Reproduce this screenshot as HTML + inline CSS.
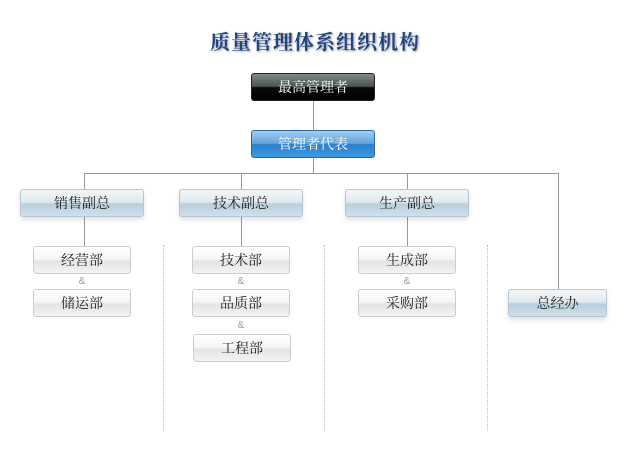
<!DOCTYPE html>
<html><head><meta charset="utf-8"><style>
body{margin:0;width:630px;height:456px;background:#fff;position:relative;overflow:hidden;font-family:"Liberation Serif","Noto Serif CJK SC",serif;}
.a{position:absolute}
.t{left:0;width:630px;top:26px;text-align:center;font-size:20px;font-weight:bold;color:#23457f;text-shadow:1px 1px 2px #99a;letter-spacing:1px}
.b{position:absolute;box-sizing:border-box;text-align:center;font-size:14px;border-radius:3px}
.k{background:linear-gradient(#7f8a88 0%,#4b5352 48%,#0a0a0a 52%,#000 100%);color:#fff;border:1px solid #222;width:124px;height:28px;line-height:29px}
.bl{background:linear-gradient(#a4cdee 0%,#5fa3dc 48%,#2a7fcc 52%,#3e9ae0 100%);color:#fff;border:1px solid #2a6aa8;width:124px;height:28px;line-height:29px}
.v{background:linear-gradient(#f2f6f8 0%,#e2eaef 45%,#b8cfdc 55%,#d0e0ea 100%);color:#222;border:1px solid #b3c7d4;width:124px;height:28px;line-height:29px;box-shadow:0 3px 5px rgba(0,0,0,.12)}
.d{background:linear-gradient(#fff 0%,#f7f7f7 45%,#e4e4e4 55%,#f3f3f3 100%);color:#222;border:1px solid #ccc;width:98px;height:28px;line-height:29px}
.h{position:absolute;background:#999;height:1px}
.vl{position:absolute;background:#999;width:1px}
.dt{position:absolute;border-left:1px dotted #bbb;width:0;top:245px;height:186px}
.amp{position:absolute;font-size:10px;color:#999;font-family:"Liberation Sans",sans-serif;width:20px;text-align:center}
</style></head><body>
<div class="a t">质量管理体系组织机构</div>
<div class="vl" style="left:313px;top:101px;height:29px"></div>
<div class="vl" style="left:313px;top:158px;height:15px"></div>
<div class="h" style="left:84px;top:173px;width:475px"></div>
<div class="vl" style="left:84px;top:173px;height:73px"></div>
<div class="vl" style="left:241px;top:173px;height:73px"></div>
<div class="vl" style="left:407px;top:173px;height:73px"></div>
<div class="vl" style="left:558px;top:173px;height:116px"></div>
<div class="dt" style="left:163px"></div>
<div class="dt" style="left:324px"></div>
<div class="dt" style="left:487px"></div>
<div class="b k" style="left:251px;top:73px">最高管理者</div>
<div class="b bl" style="left:251px;top:130px">管理者代表</div>
<div class="b v" style="left:20px;top:189px">销售副总</div>
<div class="b v" style="left:179px;top:189px">技术副总</div>
<div class="b v" style="left:345px;top:189px">生产副总</div>
<div class="b v" style="left:508px;top:289px;width:99px">总经办</div>
<div class="b d" style="left:33px;top:246px">经营部</div>
<div class="b d" style="left:33px;top:289px">储运部</div>
<div class="b d" style="left:192px;top:246px">技术部</div>
<div class="b d" style="left:192px;top:289px">品质部</div>
<div class="b d" style="left:193px;top:334px">工程部</div>
<div class="b d" style="left:358px;top:246px">生成部</div>
<div class="b d" style="left:358px;top:289px">采购部</div>
<div class="amp" style="left:72px;top:276px">&amp;</div>
<div class="amp" style="left:231px;top:276px">&amp;</div>
<div class="amp" style="left:231px;top:320px">&amp;</div>
<div class="amp" style="left:397px;top:276px">&amp;</div>
</body></html>
